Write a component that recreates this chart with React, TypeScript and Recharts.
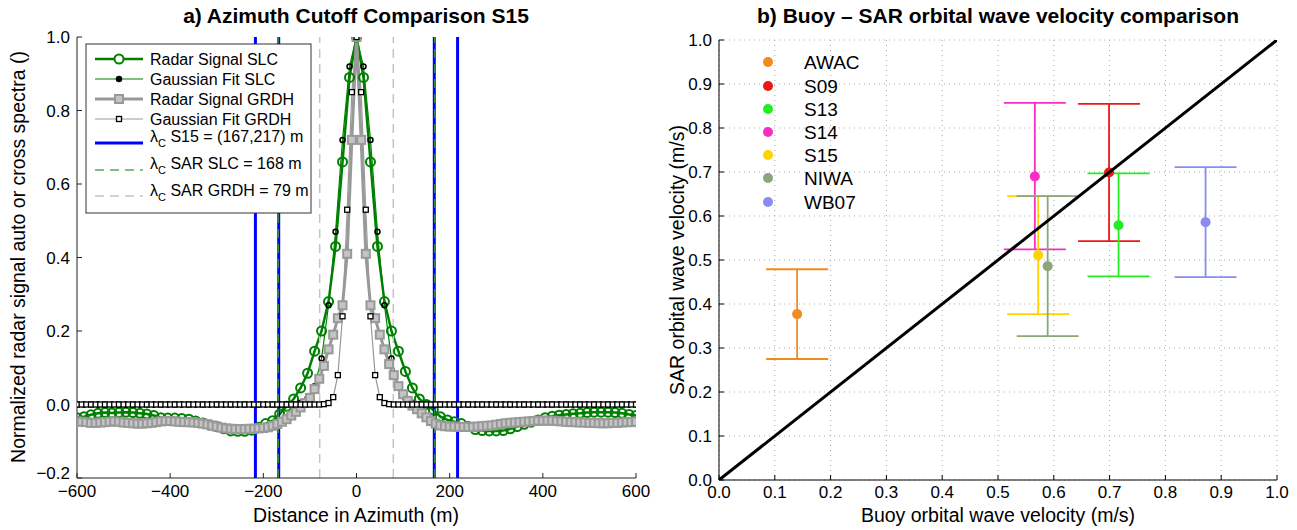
import React from "react";
import {
  LineChart,
  Line,
  XAxis,
  YAxis,
  ReferenceLine,
  ScatterChart,
  Scatter,
  ErrorBar,
  CartesianGrid,
} from "recharts";

const FONT = '"Liberation Sans", Arial, Helvetica, sans-serif';

// ---- a) azimuth cutoff comparison ----
const slcDistance = [
  -600, -585, -570, -555, -540, -525, -510, -495, -480, -465,
  -450, -435, -420, -405, -390, -375, -360, -345, -330, -315,
  -300, -285, -270, -255, -240, -225, -210, -195, -180, -165,
  -150, -135, -120, -105, -90, -75, -60, -45, -30, -15,
  0, 15, 30, 45, 60, 75, 90, 105, 120, 135,
  150, 165, 180, 195, 210, 225, 240, 255, 270, 285,
  300, 315, 330, 345, 360, 375, 390, 405, 420, 435,
  450, 465, 480, 495, 510, 525, 540, 555, 570, 585,
  600,
];
const slcRadar = [
  -0.036, -0.033, -0.028, -0.024, -0.022, -0.023, -0.022, -0.021, -0.022, -0.024,
  -0.026, -0.03, -0.036, -0.037, -0.037, -0.038, -0.04, -0.045, -0.05, -0.056,
  -0.06, -0.066, -0.072, -0.073, -0.073, -0.07, -0.062, -0.052, -0.044, -0.026,
  -0.005, 0.015, 0.045, 0.085, 0.145, 0.2, 0.28, 0.43, 0.66, 0.89,
  1.0, 0.89, 0.66, 0.43, 0.28, 0.2, 0.145, 0.09, 0.045, 0.015,
  0.0, -0.015, -0.033, -0.042, -0.047, -0.052, -0.06, -0.068, -0.071, -0.072,
  -0.072, -0.071, -0.066, -0.06, -0.054, -0.048, -0.042, -0.036, -0.032, -0.029,
  -0.027, -0.025, -0.024, -0.022, -0.021, -0.021, -0.021, -0.022, -0.024, -0.027,
  -0.03,
];
const slcGauss = [
  0, 0, 0, 0, 0, 0, 0, 0, 0, 0,
  0, 0, 0, 0, 0, 0, 0, 0, 0, 0,
  0, 0, 0, 0, 0, 0, 0, 0, 0, 0,
  0, 0.001, 0.005, 0.017, 0.05, 0.125, 0.27, 0.47, 0.72, 0.92,
  1.0, 0.92, 0.72, 0.47, 0.27, 0.125, 0.05, 0.017, 0.005, 0.001,
  0, 0, 0, 0, 0, 0, 0, 0, 0, 0,
  0, 0, 0, 0, 0, 0, 0, 0, 0, 0,
  0, 0, 0, 0, 0, 0, 0, 0, 0, 0,
  0,
];

const grdhDistance = [
  -600, -590, -580, -570, -560, -550, -540, -530, -520, -510,
  -500, -490, -480, -470, -460, -450, -440, -430, -420, -410,
  -400, -390, -380, -370, -360, -350, -340, -330, -320, -310,
  -300, -290, -280, -270, -260, -250, -240, -230, -220, -210,
  -200, -190, -180, -170, -160, -150, -140, -130, -120, -110,
  -100, -90, -80, -70, -60, -50, -40, -30, -20, -10,
  0, 10, 20, 30, 40, 50, 60, 70, 80, 90,
  100, 110, 120, 130, 140, 150, 160, 170, 180, 190,
  200, 210, 220, 230, 240, 250, 260, 270, 280, 290,
  300, 310, 320, 330, 340, 350, 360, 370, 380, 390,
  400, 410, 420, 430, 440, 450, 460, 470, 480, 490,
  500, 510, 520, 530, 540, 550, 560, 570, 580, 590,
  600,
];
const grdhRadar = [
  -0.046, -0.047, -0.048, -0.05, -0.05, -0.049, -0.048, -0.047, -0.046, -0.047,
  -0.049, -0.05, -0.051, -0.052, -0.052, -0.051, -0.05, -0.048, -0.046, -0.045,
  -0.045, -0.046, -0.047, -0.048, -0.048, -0.049, -0.05, -0.052, -0.054, -0.057,
  -0.06, -0.063, -0.065, -0.066, -0.067, -0.067, -0.067, -0.066, -0.066, -0.065,
  -0.064, -0.062, -0.058, -0.053, -0.047, -0.04, -0.03, -0.02, -0.008, 0.004,
  0.018, 0.042, 0.07, 0.105, 0.15, 0.19, 0.235, 0.27, 0.41, 0.72,
  1.0, 0.72, 0.41, 0.27, 0.235, 0.19, 0.15, 0.11, 0.08, 0.05,
  0.028, 0.01, -0.003, -0.013, -0.024, -0.035, -0.045, -0.052, -0.057, -0.059,
  -0.06, -0.06, -0.061, -0.061, -0.061, -0.061, -0.06, -0.059, -0.058, -0.057,
  -0.055, -0.053, -0.051, -0.05, -0.049, -0.048, -0.047, -0.046, -0.045, -0.044,
  -0.044, -0.044, -0.044, -0.045, -0.046, -0.047, -0.048, -0.048, -0.049, -0.049,
  -0.05, -0.05, -0.051, -0.051, -0.051, -0.05, -0.05, -0.049, -0.048, -0.048,
  -0.047,
];
const grdhGauss = [
  0, 0, 0, 0, 0, 0, 0, 0, 0, 0,
  0, 0, 0, 0, 0, 0, 0, 0, 0, 0,
  0, 0, 0, 0, 0, 0, 0, 0, 0, 0,
  0, 0, 0, 0, 0, 0, 0, 0, 0, 0,
  0, 0, 0, 0, 0, 0, 0, 0, 0, 0,
  0, 0, 0, 0.001, 0.004, 0.02, 0.08, 0.24, 0.53, 0.85,
  1.0, 0.85, 0.53, 0.24, 0.08, 0.02, 0.004, 0.001, 0, 0,
  0, 0, 0, 0, 0, 0, 0, 0, 0, 0,
  0, 0, 0, 0, 0, 0, 0, 0, 0, 0,
  0, 0, 0, 0, 0, 0, 0, 0, 0, 0,
  0, 0, 0, 0, 0, 0, 0, 0, 0, 0,
  0, 0, 0, 0, 0, 0, 0, 0, 0, 0,
  0,
];

const s15Cutoff = [167, 217];
const slcCutoff = 168;
const grdhCutoff = 79;
const azTicks = [-600, -400, -200, 0, 200, 400, 600];
const ampTicks = [-0.2, 0, 0.2, 0.4, 0.6, 0.8, 1.0];

// ---- b) buoy vs SAR orbital velocity ----
const stations = ["AWAC", "S09", "S13", "S14", "S15", "NIWA", "WB07"];
const stationColors = ["#f28a1e", "#ec1818", "#22ee22", "#f52fc4", "#ffd200", "#8ea47a", "#8a8cf2"];
const buoyVel = [0.14, 0.699, 0.716, 0.566, 0.572, 0.589, 0.872];
const sarVel = [0.377, 0.699, 0.579, 0.69, 0.511, 0.486, 0.586];
const sarLow = [0.275, 0.543, 0.463, 0.524, 0.377, 0.327, 0.461];
const sarHigh = [0.479, 0.855, 0.697, 0.857, 0.645, 0.645, 0.711];
const oneToOne = [0, 1];
const velTicks = [0, 0.1, 0.2, 0.3, 0.4, 0.5, 0.6, 0.7, 0.8, 0.9, 1.0];

const slcRadarData = slcDistance.map((d, i) => ({ d, v: slcRadar[i] }));
const slcGaussData = slcDistance.map((d, i) => ({ d, v: slcGauss[i] }));
const grdhRadarData = grdhDistance.map((d, i) => ({ d, v: grdhRadar[i] }));
const grdhGaussData = grdhDistance.map((d, i) => ({ d, v: grdhGauss[i] }));
const diagData = oneToOne.map((v) => ({ x: v, y: v }));

const minus = (s: string) => s.replace("-", "\u2212");
const tickStyle = { fill: "#000", fontSize: 17, fontFamily: FONT };

const squareDot = (size: number, stroke: string, fill: string, sw: number) => (p: any) => (
  <rect
    key={`sq${p.index}`}
    x={p.cx - size / 2}
    y={p.cy - size / 2}
    width={size}
    height={size}
    stroke={stroke}
    fill={fill}
    strokeWidth={sw}
  />
);

// y tick for panel a: the lowest label sits a little higher so it clears the x labels
function AmpTick(p: any) {
  const v = Number(p.payload.value);
  const lift = v < -0.1 ? -5 : 0;
  return (
    <text x={p.x} y={p.y + lift} dy="0.355em" textAnchor="end" fontSize={17} fill="#000" fontFamily={FONT}>
      {minus(v.toFixed(1))}
    </text>
  );
}

function AzimuthChart() {
  return (
    <LineChart width={660} height={530} margin={{ top: 37, right: 24, bottom: 22, left: 27 }}>
      <XAxis
        dataKey="d"
        type="number"
        domain={[-600, 600]}
        ticks={azTicks}
        allowDataOverflow
        tick={tickStyle}
        tickFormatter={(v) => minus(String(v))}
        tickSize={-5}
        tickMargin={12}
        height={30}
        stroke="#222"
      />
      <XAxis
        xAxisId="top"
        orientation="top"
        type="number"
        domain={[-600, 600]}
        ticks={azTicks}
        tickSize={-5}
        tickFormatter={() => ""}
        height={0}
        stroke="#222"
      />
      <YAxis
        type="number"
        domain={[-0.2, 1]}
        ticks={ampTicks}
        allowDataOverflow
        tick={<AmpTick />}
        tickSize={-5}
        tickMargin={12}
        width={50}
        stroke="#222"
      />
      <YAxis
        yAxisId="right"
        orientation="right"
        type="number"
        domain={[-0.2, 1]}
        ticks={ampTicks}
        tickSize={-5}
        tickFormatter={() => ""}
        width={0}
        stroke="#222"
      />
      <Line
        data={slcRadarData}
        dataKey="v"
        stroke="#008000"
        strokeWidth={2.5}
        dot={{ r: 4.5, stroke: "#008000", strokeWidth: 2, fill: "none" }}
        activeDot={false}
        isAnimationActive={false}
      />
      <Line
        data={slcGaussData}
        dataKey="v"
        stroke="#008000"
        strokeWidth={1.2}
        dot={{ r: 2.5, stroke: "#000", strokeWidth: 1.5, fill: "none" }}
        activeDot={false}
        isAnimationActive={false}
      />
      <Line
        data={grdhRadarData}
        dataKey="v"
        stroke="#999"
        strokeWidth={3}
        dot={squareDot(8, "#999", "#c4c4c4", 2)}
        activeDot={false}
        isAnimationActive={false}
      />
      <Line
        data={grdhGaussData}
        dataKey="v"
        stroke="#999"
        strokeWidth={1.2}
        dot={squareDot(5, "#000", "#fff", 1.3)}
        activeDot={false}
        isAnimationActive={false}
      />
      {[-grdhCutoff, grdhCutoff].map((v) => (
        <ReferenceLine key={`g${v}`} x={v} stroke="#c4c4c4" strokeWidth={1.5} strokeDasharray="9 6" />
      ))}
      {s15Cutoff.flatMap((v) => [-v, v]).map((v) => (
        <ReferenceLine key={`b${v}`} x={v} stroke="#0000ff" strokeWidth={3} />
      ))}
      {[-slcCutoff, slcCutoff].map((v) => (
        <ReferenceLine key={`s${v}`} x={v} stroke="#3f9f3f" strokeWidth={1.2} strokeDasharray="9 6" />
      ))}
    </LineChart>
  );
}

function VelocityChart() {
  return (
    <ScatterChart width={637} height={530} margin={{ top: 40, right: 20, bottom: 20, left: 19 }}>
      <CartesianGrid stroke="#aaa" strokeDasharray="1 4" />
      <XAxis
        dataKey="x"
        type="number"
        domain={[0, 1]}
        ticks={velTicks}
        allowDataOverflow
        tick={tickStyle}
        tickFormatter={(v) => Number(v).toFixed(1)}
        tickSize={-5}
        tickMargin={11}
        height={30}
        stroke="#000"
      />
      <XAxis
        xAxisId="top"
        orientation="top"
        type="number"
        domain={[0, 1]}
        ticks={velTicks}
        tickSize={-5}
        tickFormatter={() => ""}
        height={0}
        stroke="#000"
      />
      <YAxis
        dataKey="y"
        type="number"
        domain={[0, 1]}
        ticks={velTicks}
        allowDataOverflow
        tick={tickStyle}
        tickFormatter={(v) => Number(v).toFixed(1)}
        tickSize={-5}
        tickMargin={12}
        width={40}
        stroke="#000"
      />
      <YAxis
        yAxisId="right"
        orientation="right"
        type="number"
        domain={[0, 1]}
        ticks={velTicks}
        tickSize={-5}
        tickFormatter={() => ""}
        width={0}
        stroke="#000"
      />
      {stations.map((name, i) => {
        const c = stationColors[i];
        const data = [
          { x: buoyVel[i], y: sarVel[i], err: [sarVel[i] - sarLow[i], sarHigh[i] - sarVel[i]] },
        ];
        return (
          <Scatter
            key={name}
            name={name}
            data={data}
            fill={c}
            isAnimationActive={false}
            shape={(p: any) => <circle cx={p.cx} cy={p.cy} r={5} fill={c} />}
          >
            <ErrorBar dataKey="err" direction="y" width={31} stroke={c} strokeWidth={1.8} />
          </Scatter>
        );
      })}
      <Scatter
        data={diagData}
        line={{ stroke: "#000", strokeWidth: 3 }}
        shape={() => <g />}
        isAnimationActive={false}
      />
    </ScatterChart>
  );
}

function LeftLegend() {
  const rows = [59, 79, 99, 119];
  const labels = ["Radar Signal SLC", "Gaussian Fit SLC", "Radar Signal GRDH", "Gaussian Fit GRDH"];
  const lam = [
    { y: 142, text: " S15 = (167,217) m", stroke: "#0000ff", w: 3, dash: undefined, ly: 143 },
    { y: 169, text: " SAR SLC = 168 m", stroke: "#5aa85a", w: 1.3, dash: "9 6", ly: 170 },
    { y: 196, text: " SAR GRDH = 79 m", stroke: "#c4c4c4", w: 1.3, dash: "9 6", ly: 196 },
  ];
  return (
    <g fontFamily={FONT}>
      <rect x={86} y={44} width={225} height={169} fill="#fff" stroke="#333" strokeWidth={1} />
      <line x1={95} x2={143} y1={rows[0]} y2={rows[0]} stroke="#008000" strokeWidth={2.5} />
      <circle cx={119} cy={rows[0]} r={4.5} stroke="#008000" strokeWidth={2} fill="#fff" />
      <line x1={95} x2={143} y1={rows[1]} y2={rows[1]} stroke="#008000" strokeWidth={1.2} />
      <circle cx={119} cy={rows[1]} r={2.5} stroke="#000" strokeWidth={1.5} fill="#000" />
      <line x1={95} x2={143} y1={rows[2]} y2={rows[2]} stroke="#999" strokeWidth={3} />
      <rect x={115} y={rows[2] - 4} width={8} height={8} stroke="#999" strokeWidth={2} fill="#c4c4c4" />
      <line x1={95} x2={143} y1={rows[3]} y2={rows[3]} stroke="#999" strokeWidth={1.2} />
      <rect x={116.5} y={rows[3] - 2.5} width={5} height={5} stroke="#000" strokeWidth={1.3} fill="#fff" />
      {labels.map((t, i) => (
        <text key={t} x={150} y={rows[i] + 6} fontSize={16} fill="#000">
          {t}
        </text>
      ))}
      {lam.map((r) => (
        <g key={r.text}>
          <line x1={95} x2={143} y1={r.ly} y2={r.ly} stroke={r.stroke} strokeWidth={r.w} strokeDasharray={r.dash} />
          <text x={150} y={r.y} fontSize={16} fill="#000">
            λ
            <tspan dy={5} fontSize={11}>
              C
            </tspan>
            <tspan dy={-5}>{r.text}</tspan>
          </text>
        </g>
      ))}
    </g>
  );
}

function RightLegend() {
  const rows = [62, 86, 109, 132, 155, 178, 202];
  return (
    <g fontFamily={FONT}>
      {stations.map((s, i) => (
        <g key={s}>
          <circle cx={768} cy={rows[i]} r={5} fill={stationColors[i]} />
          <text x={804} y={rows[i] + 7} fontSize={19} fill="#000">
            {s}
          </text>
        </g>
      ))}
    </g>
  );
}

export default function App() {
  return (
    <div
      style={{
        position: "absolute",
        left: 0,
        top: 0,
        width: 1297,
        height: 530,
        background: "#fff",
        fontFamily: FONT,
      }}
    >
      <div style={{ position: "absolute", left: 0, top: 0 }}>
        <AzimuthChart />
      </div>
      <div style={{ position: "absolute", left: 660, top: 0 }}>
        <VelocityChart />
      </div>
      <svg
        width={1297}
        height={530}
        style={{ position: "absolute", left: 0, top: 0, pointerEvents: "none" }}
      >
        <text x={356} y={23} textAnchor="middle" fontSize={21} fontWeight="bold" fontFamily={FONT}>
          a) Azimuth Cutoff Comparison S15
        </text>
        <text x={998} y={23} textAnchor="middle" fontSize={21} fontWeight="bold" fontFamily={FONT}>
          b) Buoy – SAR orbital wave velocity comparison
        </text>
        <text x={356} y={522} textAnchor="middle" fontSize={19.5} fontFamily={FONT}>
          Distance in Azimuth (m)
        </text>
        <text x={998} y={522} textAnchor="middle" fontSize={19.5} fontFamily={FONT}>
          Buoy orbital wave velocity (m/s)
        </text>
        <text
          transform="translate(25,257) rotate(-90)"
          textAnchor="middle"
          fontSize={19.5}
          fontFamily={FONT}
        >
          Normalized radar signal auto or cross spectra ()
        </text>
        <text
          transform="translate(684,260) rotate(-90)"
          textAnchor="middle"
          fontSize={19.5}
          fontFamily={FONT}
        >
          SAR orbital wave velocity (m/s)
        </text>
        <LeftLegend />
        <RightLegend />
      </svg>
    </div>
  );
}
